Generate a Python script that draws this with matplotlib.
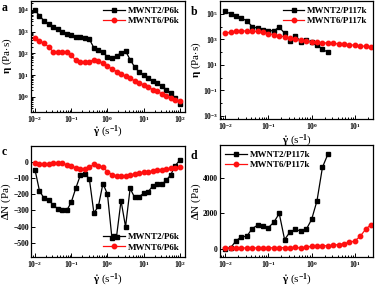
import matplotlib
matplotlib.use("Agg")
import matplotlib.pyplot as plt
from matplotlib.ticker import LogLocator, NullFormatter

plt.rcParams['font.family'] = ['Liberation Serif', 'DejaVu Serif']
plt.rcParams['font.weight'] = 'bold'
plt.rcParams['mathtext.fontset'] = 'custom'
plt.rcParams['mathtext.rm'] = 'Liberation Serif:bold'
plt.rcParams['mathtext.it'] = 'Liberation Serif:bold'
plt.rcParams['mathtext.bf'] = 'Liberation Serif:bold'

# shear rate grid (s^-1)
rate = [0.01, 0.0133, 0.0178, 0.0237, 0.0316, 0.0422, 0.0562, 0.075,
        0.1, 0.133, 0.178, 0.237, 0.316, 0.422, 0.562, 0.75,
        1.0, 1.33, 1.78, 2.37, 3.16, 4.22, 5.62, 7.5,
        10, 13.3, 17.8, 23.7, 31.6, 42.2, 56.2, 75, 100]

# a: viscosity, P6k
eta_m2_p6k = [9500, 5500, 3100, 2200, 1700, 1290, 955, 810, 710, 600, 560, 510,
              455, 182, 141, 112, 71, 59, 76, 107, 129, 52, 24, 14, 10, 7.2,
              5.5, 4.3, 3.2, 2.2, 1.5, 0.89, 0.49]
eta_m6_p6k = [490, 380, 290, 204, 120, 120, 120, 112, 83, 49, 42, 42, 42, 51,
              46, 35, 26, 19.5, 14.8, 11.5, 8.9, 7.1, 5.6, 4.5, 3.5, 2.8, 2.2,
              1.8, 1.4, 1.15, 0.93, 0.76, 0.63]

# b: viscosity, P117k
eta_m2_p117k = [151000, 100000, 69000, 46000, 28000, 10000, 7400, 5500, 4800,
                4600, 8900, 3000, 780, 1800, 660, 890, 575, 355, 174, 93]
eta_m6_p117k = [2950, 3600, 4100, 4400, 4500, 4400, 4100, 3600, 2700, 2300,
                1900, 1550, 1200, 1000, 850, 730, 630, 575, 535, 500, 468,
                437, 407, 372, 339, 309, 275, 234]

# c: normal stress difference, P6k
dn_m2_p6k = [-50, -180, -225, -235, -265, -290, -300, -300, -250, -165, -85,
             -75, -105, -315, -275, -135, -200, -470, -460, -240, -400, -165,
             -220, -215, -195, -185, -150, -140, -140, -115, -80, -25, 10]
dn_m6_p6k = [-12, -15, -18, -15, -8, -7, -12, -20, -30, -38, -44, -48, -35,
             -18, -28, -35, -62, -80, -88, -90, -88, -85, -75, -70, -66, -62,
             -58, -54, -50, -46, -42, -38, -35]

# d: normal stress difference, P117k
dn_m2_p117k = [0, 40, 440, 670, 700, 1140, 1330, 1300, 1200, 1490, 2000, 510,
               950, 1100, 990, 1090, 1660, 2720, 4630, 5370]
dn_m6_p117k = [20, 25, 30, 30, 35, 35, 40, 40, 40, 45, 50, 55, 60, 65, 30, 90,
               120, 130, 150, 170, 190, 230, 280, 360, 430, 700, 1100, 1370]

fig = plt.figure(figsize=(3.77, 2.88), dpi=100)
W, H = 377.0, 288.0


def make_ax(l, r, t, b):
    return fig.add_axes([l / W, 1 - b / H, (r - l) / W, (b - t) / H])


ax_a = make_ax(31, 185, 1, 112)
ax_b = make_ax(220, 373, 1, 119)
ax_c = make_ax(31, 185, 146, 257)
ax_d = make_ax(220, 373, 145, 257)

black = dict(color='black', marker='s', markersize=2.8, lw=0.9)
red = dict(color='#ff1010', marker='o', markersize=3.2, lw=0.9)
fs_tick = 5.5
fs_lab = 8
xlab = r'$\dot{\gamma}$ (s$^{-1}$)'

ax_a.plot(rate, eta_m2_p6k, label='MWNT2/P6k', **black)
ax_a.plot(rate, eta_m6_p6k, label='MWNT6/P6k', **red)
ax_b.plot(rate[:len(eta_m2_p117k)], eta_m2_p117k, label='MWNT2/P117k', **black)
ax_b.plot(rate[:len(eta_m6_p117k)], eta_m6_p117k, label='MWNT6/P117k', **red)
ax_c.plot(rate, dn_m2_p6k, label='MWNT2/P6k', **black)
ax_c.plot(rate, dn_m6_p6k, label='MWNT6/P6k', **red)
ax_d.plot(rate[:len(dn_m2_p117k)], dn_m2_p117k, label='MWNT2/P117k', **black)
ax_d.plot(rate[:len(dn_m6_p117k)], dn_m6_p117k, label='MWNT6/P117k', **red)

for ax in (ax_a, ax_b, ax_c, ax_d):
    ax.set_xscale('log')
    ax.tick_params(which='both', direction='in', labelsize=fs_tick, width=0.7, pad=1.5)
    ax.tick_params(which='major', length=3)
    ax.tick_params(which='minor', length=1.6)
    for s in ax.spines.values():
        s.set_linewidth(0.9)
    ax.set_xlabel(xlab, fontsize=fs_lab)
    ax.xaxis.set_minor_locator(LogLocator(base=10, subs=range(2, 10), numticks=20))
    ax.xaxis.set_minor_formatter(NullFormatter())

ax_a.set_xlim(10 ** -2.11, 10 ** 2.14)
ax_c.set_xlim(10 ** -2.11, 10 ** 2.14)
ax_b.set_xlim(10 ** -2.12, 10 ** 1.42)
ax_d.set_xlim(10 ** -2.12, 10 ** 1.42)

ax_a.set_yscale('log')
ax_a.set_ylim(10 ** -0.69, 10 ** 4.41)
ax_a.set_yticks([1, 10, 100, 1000, 10000])
ax_a.yaxis.set_minor_locator(LogLocator(base=10, subs=range(2, 10), numticks=20))
ax_a.yaxis.set_minor_formatter(NullFormatter())
ax_a.set_ylabel(r'$\eta$ (Pa$\cdot$s)', fontsize=fs_lab)

ax_b.set_yscale('log')
ax_b.set_ylim(10 ** -3.25, 10 ** 6.0)
ax_b.set_yticks([1e-3, 1e-1, 1e1, 1e3, 1e5])
ax_b.yaxis.set_minor_locator(LogLocator(base=10, subs=[1.0], numticks=20))
ax_b.yaxis.set_minor_formatter(NullFormatter())
ax_b.set_ylabel(r'$\eta$ (Pa$\cdot$s)', fontsize=fs_lab)

ax_c.set_ylim(-585, 95)
ax_c.set_yticks([0, -100, -200, -300, -400, -500])
ax_c.set_ylabel(r'$\Delta$N (Pa)', fontsize=fs_lab)

ax_d.set_ylim(-480, 5900)
ax_d.set_yticks([0, 2000, 4000])
ax_d.set_ylabel(r'$\Delta$N (Pa)', fontsize=fs_lab)

# fixed label positions in figure pixels
tf = fig.transFigure
for ax, yx, yy, xx, xy in ((ax_a, 7, 56, 108, 132), (ax_b, 196, 60, 297, 141),
                           (ax_c, 6, 201, 108, 280), (ax_d, 196, 201, 297, 280)):
    ax.yaxis.set_label_coords(yx / W, 1 - yy / H, transform=tf)
    ax.yaxis.label.set_va('center')
    ax.xaxis.set_label_coords(xx / W, 1 - xy / H, transform=tf)
    ax.xaxis.label.set_va('center')

leg_kw = dict(frameon=False, fontsize=6.5, handlelength=2.4, handletextpad=0.3,
              labelspacing=0.25, borderaxespad=0.2)
ax_a.legend(loc='upper right', **leg_kw)
ax_b.legend(loc='upper right', **leg_kw)
ax_c.legend(loc='lower right', **leg_kw)
ax_d.legend(loc='upper left', **leg_kw)

for lab, x, y in (('a', 2, 8), ('b', 191, 12), ('c', 2, 152), ('d', 191, 156)):
    fig.text(x / W, 1 - y / H, lab, fontsize=8.5, fontweight='bold', va='center')

fig.savefig('out.png', dpi=100)
